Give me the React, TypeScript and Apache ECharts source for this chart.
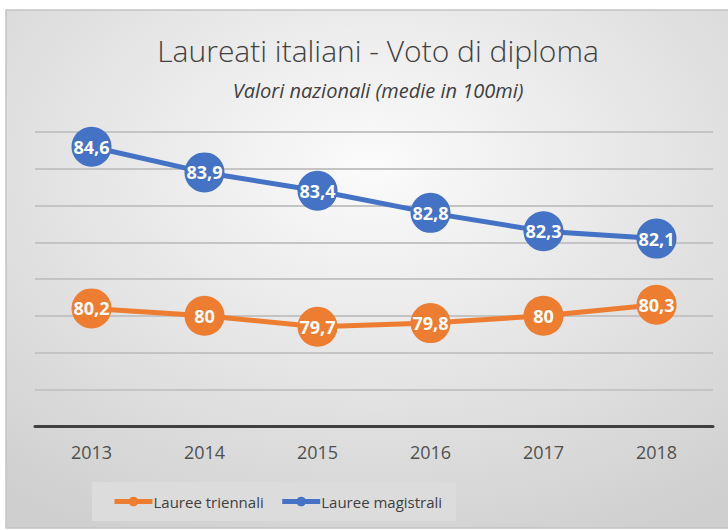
import React, { useEffect, useRef } from "react";
import * as echarts from "echarts";

const years = ["2013", "2014", "2015", "2016", "2017", "2018"];
const triennali = [80.2, 80, 79.7, 79.8, 80, 80.3];
const magistrali = [84.6, 83.9, 83.4, 82.8, 82.3, 82.1];
const titleText = "Laureati italiani - Voto di diploma";
const subtitleText = "Valori nazionali (medie in 100mi)";
const seriesNames = ["Lauree triennali", "Lauree magistrali"];

const FONT = "'Open Sans', 'Noto Sans', sans-serif";

export default function App() {
  const ref = useRef<HTMLDivElement>(null);
  useEffect(() => {
    if (!ref.current) return;
    const chart = echarts.init(ref.current, undefined, { renderer: "svg" });
    const fmt = (p: any) => String(p.value).replace(".", ",");
    const mkSeries = (name: string, data: number[], color: string) => ({
      name,
      type: "line",
      data,
      symbol: "circle",
      symbolSize: 40,
      lineStyle: { color, width: 5 },
      itemStyle: { color },
      label: {
        show: true,
        position: "inside",
        formatter: fmt,
        color: "#ffffff",
        fontWeight: "bold",
        fontSize: 18,
        fontFamily: FONT,
      },
      z: 3,
    });
    chart.setOption({
      animation: false,
      graphic: [
        {
          type: "rect",
          shape: { x: 6, y: 10, width: 730, height: 518 },
          style: {
            fill: new echarts.graphic.RadialGradient(0.5, 0.3, 0.8, [
              { offset: 0, color: "#fbfbfb" },
              { offset: 1, color: "#cfcfcf" },
            ]),
            stroke: "#c4c4c4",
            lineWidth: 1.5,
          },
          z: -10,
          silent: true,
        },
      ],
      title: [
        {
          text: titleText,
          left: 373,
          textAlign: "center",
          top: 30,
          textStyle: { fontFamily: FONT, fontWeight: 300, fontSize: 30, color: "#404040" },
        },
        {
          text: subtitleText,
          left: 373,
          textAlign: "center",
          top: 75,
          textStyle: { fontFamily: FONT, fontStyle: "italic", fontWeight: "normal", fontSize: 20, color: "#404040" },
        },
      ],
      legend: {
        data: seriesNames,
        left: 92,
        top: 482,
        orient: "horizontal",
        padding: [12, 14, 12, 20],
        backgroundColor: "#dcdcdc",
        itemWidth: 38,
        itemHeight: 12,
        itemGap: 16,
        lineStyle: { width: 5 },
        textStyle: { fontFamily: FONT, fontSize: 15, color: "#404040", padding: [0, 0, 0, -4] },
      },
      grid: { left: 35, right: 15, top: 132, bottom: 105 },
      xAxis: {
        type: "category",
        data: years,
        boundaryGap: true,
        axisLine: { lineStyle: { color: "#404040", width: 3 } },
        axisTick: { show: false },
        axisLabel: { fontFamily: FONT, fontSize: 18, color: "#505050", margin: 17 },
      },
      yAxis: {
        type: "value",
        min: 77,
        max: 85,
        interval: 1,
        axisLabel: { show: false },
        axisLine: { show: false },
        axisTick: { show: false },
        splitLine: { lineStyle: { color: "#c4c4c4", width: 2 } },
      },
      series: [
        mkSeries(seriesNames[0], triennali, "#ED7D31"),
        mkSeries(seriesNames[1], magistrali, "#4472C4"),
      ],
    });
    return () => chart.dispose();
  }, []);
  return <div ref={ref} style={{ width: 728, height: 531, position: "absolute", left: 0, top: 0 }} />;
}
